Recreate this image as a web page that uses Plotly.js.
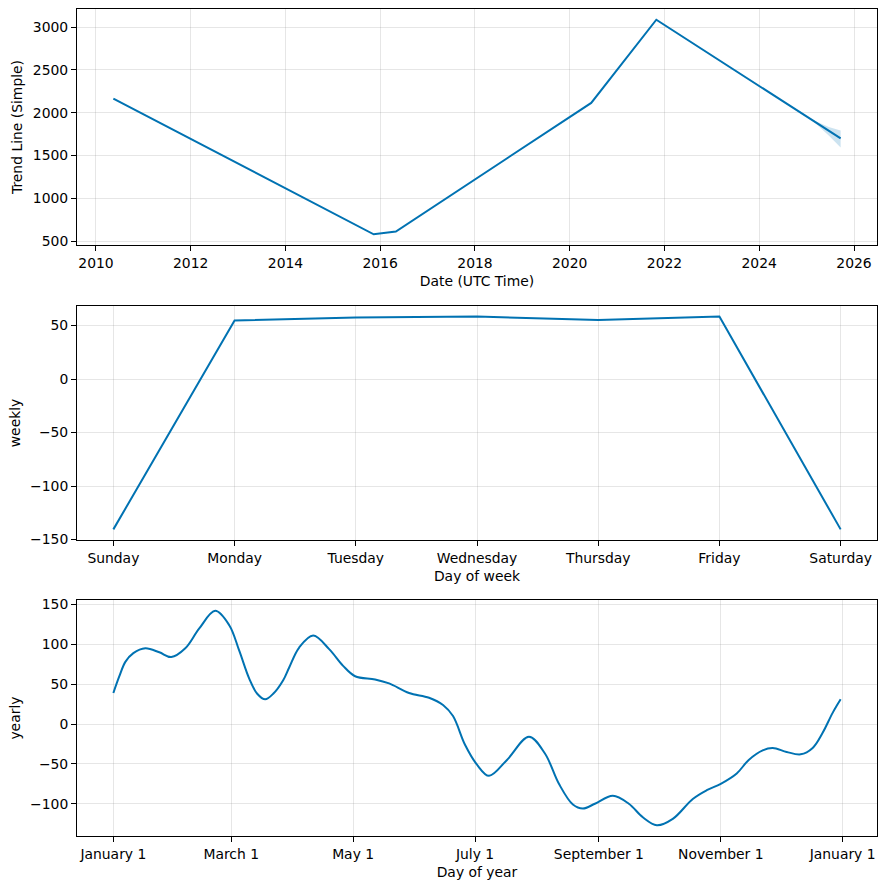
<!DOCTYPE html>
<html>
<head>
<meta charset="utf-8">
<script src="https://cdn.plot.ly/plotly-3.0.1.min.js"></script>
<style>html,body{margin:0;padding:0;background:#fff;}#chart{width:886px;height:889px;}</style>
</head>
<body>
<div id="chart"></div>
<script>
// ---- Trend panel ----
const trendDates = ['2010-05-15', '2015-11-12', '2016-05-01', '2020-06-15', '2021-10-30', '2025-09-20'];
const trendValues = [2165, 582, 615, 2115, 3085, 1700];
const bandDates = ['2025-02-10', '2025-04-15', '2025-06-20', '2025-09-20'];
const bandUpper = [1920, 1873, 1834, 1792];
const bandLower = [1914, 1828, 1734, 1595];

// ---- Weekly panel ----
const weekDays = ['Sunday', 'Monday', 'Tuesday', 'Wednesday', 'Thursday', 'Friday', 'Saturday'];
const weeklyValues = [-140.5, 54.6, 57.4, 58.3, 55.2, 58.3, -140.5];

// ---- Yearly panel (day of year, 0 = January 1) ----
const yearDays = [0, 3, 6, 10, 16, 23, 29, 36, 43, 51, 58, 63, 68, 72, 76, 80, 85, 88, 93, 100, 108, 115, 121, 131, 138, 148, 158, 165, 170, 176, 182, 188, 197, 208, 216, 223, 230, 235, 241, 250, 258, 265, 272, 280, 290, 297, 304, 312, 318, 325, 330, 337, 344, 350, 355, 360, 364];
const yearlyValues = [39, 60, 78, 89, 95, 90, 84, 95, 120, 142, 124, 92, 57, 38, 31, 38, 55, 71, 96, 111, 94, 73, 60, 56, 51, 39, 33, 24, 10, -26, -51, -65, -45, -16, -37, -75, -101, -106, -100, -90, -100, -117, -127, -119, -94, -83, -75, -62, -45, -33, -30, -35, -38, -30, -11, 14, 31];

const weeklyTitle = 'weekly';
const yearlyTitle = 'yearly';
const trendTitle = 'Trend Line (Simple)';
const trendXTitle = 'Date (UTC Time)';
const weekXTitle = 'Day of week';
const yearXTitle = 'Day of year';

const LINE = '#0072B2';
const DAY = 86400000;
const yearDates = yearDays.map(d => new Date(Date.UTC(2017, 0, 1) + d * DAY).toISOString().slice(0, 10));

function padRange(lo, hi) { const m = (hi - lo) * 0.05; return [lo - m, hi + m]; }
function msToStr(ms) { return new Date(ms).toISOString().replace('T', ' ').slice(0, 19); }
function dateRange(dates) {
  const ms = dates.map(d => Date.parse(d));
  const r = padRange(Math.min(...ms), Math.max(...ms));
  return [msToStr(r[0]), msToStr(r[1])];
}

const allTrendY = trendValues.concat(bandUpper, bandLower);
const FONT = {family: 'DejaVu Sans, sans-serif', size: 13.9, color: '#000'};

function xax(extra) {
  return Object.assign({
    showline: true, mirror: true, linecolor: '#000', linewidth: 1,
    ticks: 'outside', ticklen: 5, tickwidth: 1, tickcolor: '#000',
    showgrid: true, gridcolor: 'rgba(128,128,128,0.2)', gridwidth: 1,
    zeroline: false, tickfont: FONT, automargin: false
  }, extra);
}

const traces = [
  {x: bandDates.concat(bandDates.slice().reverse()), y: bandUpper.concat(bandLower.slice().reverse()),
   fill: 'toself', fillcolor: 'rgba(0,114,178,0.2)', line: {width: 0}, mode: 'lines',
   xaxis: 'x', yaxis: 'y', hoverinfo: 'skip', showlegend: false},
  {x: trendDates, y: trendValues, mode: 'lines', line: {color: LINE, width: 2},
   xaxis: 'x', yaxis: 'y', showlegend: false},
  {x: weekDays, y: weeklyValues, mode: 'lines', line: {color: LINE, width: 2},
   xaxis: 'x2', yaxis: 'y2', showlegend: false},
  {x: yearDates, y: yearlyValues, mode: 'lines', line: {color: LINE, width: 2, shape: 'spline', smoothing: 1},
   xaxis: 'x3', yaxis: 'y3', showlegend: false}
];

const yr0 = Date.UTC(2017, 0, 1);
const yrRange = padRange(yr0 + yearDays[0] * DAY, yr0 + yearDays[yearDays.length - 1] * DAY).map(msToStr);

const layout = {
  width: 886, height: 889,
  margin: {l: 77, r: 9, t: 9, b: 53},
  paper_bgcolor: '#fff', plot_bgcolor: '#fff',
  font: FONT,
  showlegend: false,
  xaxis: xax({anchor: 'y', type: 'date', range: dateRange(trendDates), tick0: '2010-01-01', dtick: 'M24', tickformat: '%Y',
    title: {text: trendXTitle, font: FONT, standoff: 6}}),
  yaxis: xax({domain: [0.7146, 1], anchor: 'x', range: padRange(Math.min(...allTrendY), Math.max(...allTrendY)), dtick: 500, tick0: 0,
    title: {text: trendTitle, font: FONT, standoff: 6}}),
  xaxis2: xax({anchor: 'y2', type: 'category', range: [-0.3, weekDays.length - 1 + 0.3],
    title: {text: weekXTitle, font: FONT, standoff: 6}}),
  yaxis2: xax({domain: [0.3579, 0.6409], anchor: 'x2', range: padRange(Math.min(...weeklyValues), Math.max(...weeklyValues)), dtick: 50, tick0: 0,
    title: {text: weeklyTitle, font: FONT, standoff: 6}}),
  xaxis3: xax({anchor: 'y3', type: 'date', range: yrRange, tick0: '2017-01-01', dtick: 'M2', tickformat: '%B %-d',
    title: {text: yearXTitle, font: FONT, standoff: 6}}),
  yaxis3: xax({domain: [0, 0.2852], anchor: 'x3', range: padRange(Math.min(...yearlyValues), Math.max(...yearlyValues)), dtick: 50, tick0: 0,
    title: {text: yearlyTitle, font: FONT, standoff: 6}})
};

Plotly.newPlot('chart', traces, layout, {displayModeBar: false, staticPlot: true});
</script>
</body>
</html>
